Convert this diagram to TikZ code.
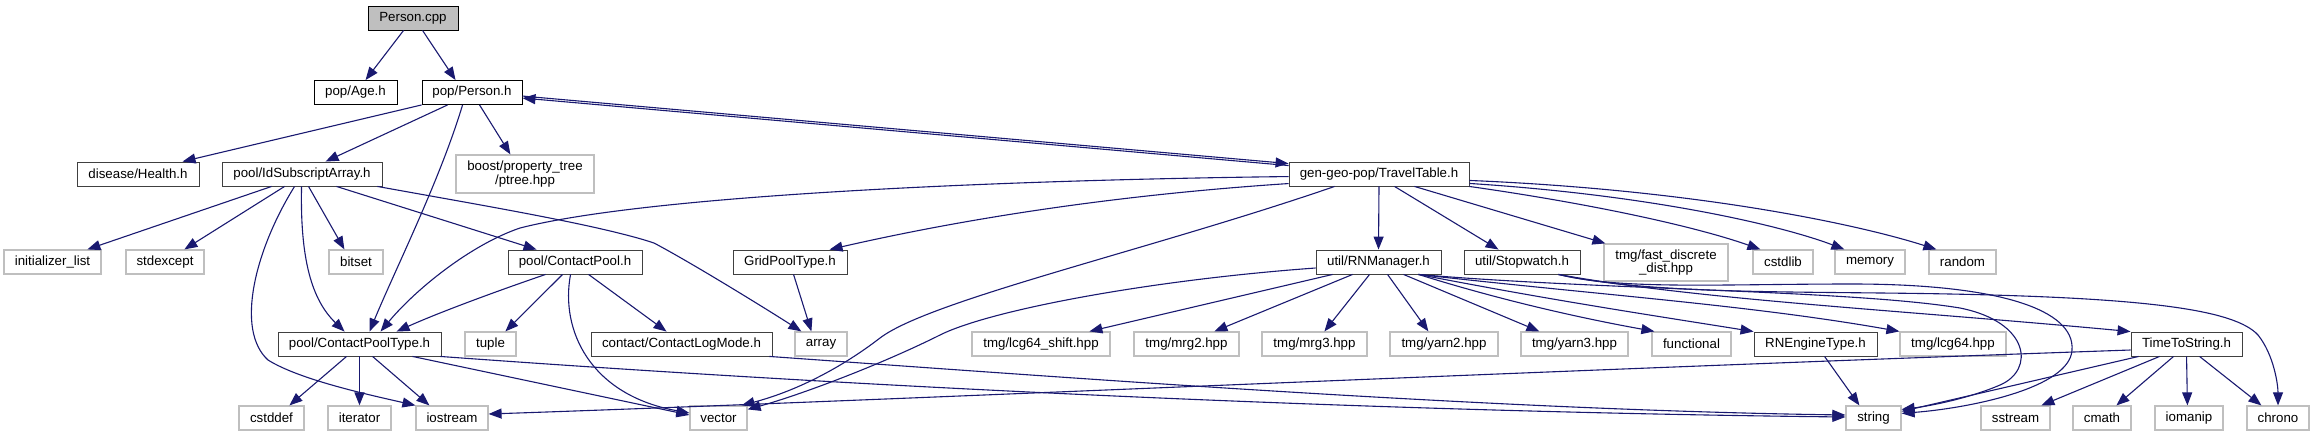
\documentclass[tikz,border=0pt]{standalone}
\usepackage{fontspec}
\setmainfont{Liberation Sans}
\usetikzlibrary{arrows.meta}
\definecolor{edgeblue}{HTML}{191970}
\definecolor{sysgray}{HTML}{BFBFBF}
\definecolor{docgray}{HTML}{404040}
\newcommand\dfont{\fontsize{13.3}{13.5}\selectfont}
\begin{document}
\begin{tikzpicture}[x=1pt,y=-1pt,
  doc/.style={draw=docgray, line width=0.9pt, fill=white, inner sep=0pt, font=\dfont, minimum height=24pt, align=center},
  sys/.style={draw=sysgray, line width=1.2pt, fill=white, inner sep=0pt, font=\dfont, minimum height=24pt, align=center},
  e/.style={draw=edgeblue, line width=1.1pt, -{Triangle[length=13pt,width=10pt]}}]
\useasboundingbox (0,0) rectangle (2316,437);
% row 0-1
\node[doc, draw=black, fill=sysgray, minimum width=90pt] (pcpp) at (413,18) {Person.cpp};
\node[doc, draw=black, minimum width=83pt] (age) at (355.5,92.5) {pop/Age.h};
\node[doc, draw=black, minimum width=100pt] (person) at (472,92.5) {pop/Person.h};
% row 2
\node[doc, minimum width=122pt] (health) at (138,174) {disease/Health.h};
\node[doc, minimum width=160pt] (idsa) at (302,174) {pool/IdSubscriptArray.h};
\node[sys, minimum width=138pt, minimum height=38pt] (ptree) at (525,174) {boost/property\_tree\\/ptree.hpp};
\node[doc, minimum width=180pt] (travel) at (1379,174) {gen-geo-pop/TravelTable.h};
% row 3
\node[sys, minimum width=97pt] (initl) at (52.5,262) {initializer\_list};
\node[sys, minimum width=78pt] (stdexc) at (165,262) {stdexcept};
\node[sys, minimum width=54pt] (bitset) at (356,262) {bitset};
\node[doc, minimum width=134pt] (cpool) at (575,262) {pool/ContactPool.h};
\node[doc, minimum width=114pt] (grid) at (790,262) {GridPoolType.h};
\node[doc, minimum width=125pt] (rnm) at (1378.5,262) {util/RNManager.h};
\node[doc, minimum width=116pt] (stopw) at (1522,262) {util/Stopwatch.h};
\node[sys, minimum width=124pt, minimum height=37pt] (fdd) at (1666,262.5) {tmg/fast\_discrete\\\_dist.hpp};
\node[sys, minimum width=60pt] (cstdlib) at (1783,262) {cstdlib};
\node[sys, minimum width=70pt] (memory) at (1870,262) {memory};
\node[sys, minimum width=67pt] (random) at (1962.5,262) {random};
% row 4
\node[doc, minimum width=163pt] (cptype) at (359.5,344) {pool/ContactPoolType.h};
\node[sys, minimum width=51pt] (tuple) at (490.5,344) {tuple};
\node[doc, minimum width=181pt] (clm) at (681.5,344) {contact/ContactLogMode.h};
\node[sys, minimum width=52pt] (array) at (821,344) {array};
\node[sys, minimum width=138pt] (lcgs) at (1041,344) {tmg/lcg64\_shift.hpp};
\node[sys, minimum width=105pt] (mrg2) at (1186.5,344) {tmg/mrg2.hpp};
\node[sys, minimum width=105pt] (mrg3) at (1314.5,344) {tmg/mrg3.hpp};
\node[sys, minimum width=108pt] (yarn2) at (1444,344) {tmg/yarn2.hpp};
\node[sys, minimum width=107pt] (yarn3) at (1574.5,344) {tmg/yarn3.hpp};
\node[sys, minimum width=79pt] (func) at (1691.5,344) {functional};
\node[doc, minimum width=123pt] (rnet) at (1815.5,344) {RNEngineType.h};
\node[sys, minimum width=106pt] (lcg64) at (1953,344) {tmg/lcg64.hpp};
\node[doc, minimum width=111pt] (tts) at (2186.5,344) {TimeToString.h};
% row 5
\node[sys, minimum width=65pt] (cstddef) at (271.5,418) {cstddef};
\node[sys, minimum width=63pt] (iter) at (359.5,418) {iterator};
\node[sys, minimum width=72pt] (iostream) at (452,418) {iostream};
\node[sys, minimum width=57pt] (vector) at (718.5,418) {vector};
\node[sys, minimum width=55pt] (string) at (1873.5,418) {string};
\node[sys, minimum width=69pt] (sstream) at (2015.5,418) {sstream};
\node[sys, minimum width=58pt] (cmath) at (2102,418) {cmath};
\node[sys, minimum width=68pt] (iomanip) at (2189,418) {iomanip};
\node[sys, minimum width=62pt] (chrono) at (2278,418) {chrono};

% Person.cpp
\draw[e] ([xshift=36pt]pcpp.south west) -- ([xshift=52pt]age.north west);
\draw[e] ([xshift=55pt]pcpp.south west) -- ([xshift=34pt]person.north west);
% Person.h
\draw[e] (person.south west) -- ([xshift=106pt]health.north west);
\draw[e] ([xshift=26pt]person.south west) -- ([xshift=104pt]idsa.north west);
\draw[e] ([xshift=41pt]person.south west) .. controls (440,180) and (395,270) .. ([xshift=92pt]cptype.north west);
\draw[e] ([xshift=58pt]person.south west) -- ([xshift=55pt]ptree.north west);
\draw[e] ([yshift=-16pt]person.north east) -- ([yshift=-2pt]travel.north west);
% TravelTable.h
\draw[e] ([yshift=-4pt]travel.north west) -- ([yshift=-18pt]person.north east);
\draw[e] ([yshift=-15pt]travel.north west) .. controls (1000,180) and (650,195) .. (520,228) .. controls (470,245) and (415,290) .. ([xshift=103pt]cptype.north west);
\draw[e] ([yshift=-22pt]travel.north west) .. controls (1100,196) and (950,222) .. ([xshift=97pt]grid.north west);
\draw[e] ([xshift=46pt]travel.south west) .. controls (1150,250) and (930,300) .. (880,338) .. controls (845,365) and (800,390) .. ([xshift=-6pt]vector.north east);
\draw[e] (travel.south) -- (rnm.north);
\draw[e] ([xshift=106pt]travel.south west) -- ([xshift=35pt]stopw.north west);
\draw[e] ([xshift=126pt]travel.south west) -- ([xshift=2pt]fdd.north west);
\draw[e] (travel.south east) .. controls (1600,205) and (1700,228) .. ([xshift=8pt]cstdlib.north west);
\draw[e] ([yshift=3pt]travel.south east) .. controls (1650,195) and (1780,225) .. ([xshift=10pt]memory.north west);
\draw[e] ([yshift=6pt]travel.south east) .. controls (1700,190) and (1860,225) .. ([xshift=8pt]random.north west);
% IdSubscriptArray.h
\draw[e] ([xshift=50pt]idsa.south west) -- ([xshift=84pt]initl.north west);
\draw[e] ([xshift=63pt]idsa.south west) -- ([xshift=59pt]stdexc.north west);
\draw[e] ([xshift=73pt]idsa.south west) .. controls (255,250) and (235,330) .. (268,360) .. controls (300,380) and (370,395) .. (iostream.north west);
\draw[e] ([xshift=80pt]idsa.south west) .. controls (300,260) and (312,300) .. ([xshift=67pt]cptype.north west);
\draw[e] ([xshift=87pt]idsa.south west) -- ([xshift=16pt]bitset.north west);
\draw[e] ([xshift=115pt]idsa.south west) -- ([xshift=29pt]cpool.north west);
\draw[e] ([xshift=-5pt]idsa.south east) .. controls (480,205) and (600,225) .. (654,243) .. controls (690,262) and (760,305) .. ([xshift=7pt]array.north west);
% ContactPool.h
\draw[e] ([xshift=38pt]cpool.south west) .. controls (500,290) and (440,312) .. ([xshift=119pt]cptype.north west);
\draw[e] ([xshift=55pt]cpool.south west) -- ([xshift=41pt]tuple.north west);
\draw[e] ([xshift=63pt]cpool.south west) .. controls (560,330) and (590,395) .. ([yshift=5pt]vector.west);
\draw[e] ([xshift=81pt]cpool.south west) -- ([xshift=76pt]clm.north west);
% GridPoolType.h
\draw[e] ([xshift=61pt]grid.south west) -- ([xshift=17pt]array.north west);
% ContactPoolType.h
\draw[e] ([xshift=69pt]cptype.south west) -- ([xshift=51pt]cstddef.north west);
\draw[e] (cptype.south) -- (iter.north);
\draw[e] ([xshift=95pt]cptype.south west) -- ([xshift=14pt]iostream.north west);
\draw[e] ([xshift=135pt]cptype.south west) -- ([yshift=3pt]vector.west);
\draw[e] ([xshift=-1pt]cptype.south east) .. controls (900,390) and (1400,412) .. ([yshift=1pt]string.west);
% ContactLogMode.h
\draw[e] ([xshift=-3pt]clm.south east) .. controls (1100,380) and (1500,410) .. ([yshift=3pt]string.west);
% RNManager.h
\draw[e] ([yshift=-6pt]rnm.west) .. controls (1150,280) and (990,310) .. (940,335) .. controls (880,365) and (800,395) .. ([yshift=-4pt]vector.north east);
\draw[e] ([xshift=17pt]rnm.south west) -- ([xshift=118pt]lcgs.north west);
\draw[e] ([xshift=37pt]rnm.south west) -- ([xshift=81pt]mrg2.north west);
\draw[e] ([xshift=54pt]rnm.south west) -- ([xshift=63pt]mrg3.north west);
\draw[e] ([xshift=72pt]rnm.south west) -- ([xshift=39pt]yarn2.north west);
\draw[e] ([xshift=88pt]rnm.south west) -- ([xshift=19pt]yarn3.north west);
\draw[e] ([xshift=103pt]rnm.south west) .. controls (1500,300) and (1580,318) .. ([xshift=3pt]func.north west);
\draw[e] ([xshift=103pt]rnm.south west) .. controls (1550,300) and (1650,315) .. (rnet.north west);
\draw[e] ([xshift=103pt]rnm.south west) .. controls (1600,295) and (1750,305) .. (lcg64.north west);
\draw[e] ([xshift=103pt]rnm.south west) .. controls (1600,290) and (1850,290) .. (1960,308) .. controls (2030,322) and (2035,370) .. (2000,385) .. controls (1970,398) and (1930,406) .. ([yshift=-4pt]string.north east);
% Stopwatch.h
\draw[e] ([xshift=95pt]stopw.south west) .. controls (1620,290) and (1720,284) .. (1852,284) .. controls (2000,284) and (2075,310) .. (2072,350) .. controls (2070,388) and (1970,408) .. ([yshift=-8pt]string.north east);
\draw[e] ([xshift=95pt]stopw.south west) .. controls (1650,295) and (1800,291) .. (1950,294) .. controls (2150,298) and (2235,310) .. (2258,335) .. controls (2274,355) and (2278,385) .. (chrono.north);
\draw[e] ([xshift=95pt]stopw.south west) .. controls (1700,300) and (1900,310) .. (tts.north west);
% RNEngineType.h
\draw[e] ([xshift=71pt]rnet.south west) -- ([xshift=14pt]string.north west);
% TimeToString.h
\draw[e] ([yshift=-6pt]tts.west) .. controls (1500,372) and (900,400) .. ([yshift=4pt]iostream.east);
\draw[e] ([xshift=8pt]tts.south west) -- ([yshift=-6pt]string.north east);
\draw[e] ([xshift=29pt]tts.south west) -- ([xshift=61pt]sstream.north west);
\draw[e] ([xshift=43pt]tts.south west) -- ([xshift=44pt]cmath.north west);
\draw[e] ([xshift=56pt]tts.south west) -- ([xshift=33pt]iomanip.north west);
\draw[e] ([xshift=69pt]tts.south west) -- ([xshift=15pt]chrono.north west);
\end{tikzpicture}
\end{document}
